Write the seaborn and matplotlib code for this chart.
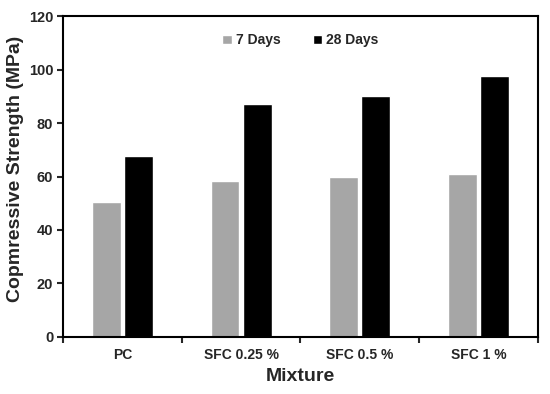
import matplotlib
matplotlib.use('Agg')
import matplotlib.pyplot as plt
from matplotlib.ticker import FixedLocator
import seaborn as sns
import pandas as pd

mixtures = ['PC', 'SFC 0.25 %', 'SFC 0.5 %', 'SFC 1 %']
days_7 = [50.5, 58.4, 59.8, 61.0]
days_28 = [67.6, 87.1, 90.3, 97.6]
series = ['7 Days', '28 Days']

df = pd.DataFrame({
    'Mixture': mixtures * 2,
    'Strength': days_7 + days_28,
    'Age': [series[0]] * len(mixtures) + [series[1]] * len(mixtures),
})

sns.set_style('white')
plt.rcParams['font.family'] = ['Liberation Sans', 'DejaVu Sans']
plt.rcParams['font.weight'] = 'bold'

fig = plt.figure(figsize=(5.5, 3.94), dpi=100)
ax = fig.add_axes([0.1145, 0.145, 0.8635, 0.814])

sns.barplot(data=df, x='Mixture', y='Strength', hue='Age', order=mixtures,
            hue_order=series, palette=['#a6a6a6', '#000000'],
            width=0.54, gap=0.1, saturation=1, ax=ax)

ax.set_ylim(0, 120)
ax.set_yticks(range(0, 121, 20))
ax.set_xlim(-0.5, len(mixtures) - 0.5)
ax.set_xlabel('Mixture', fontsize=14, fontweight='bold')
ax.set_ylabel('Copmressive Strength (MPa)', fontsize=14, fontweight='bold')
ax.yaxis.set_label_coords(-0.083, 0.525)

for s in ax.spines.values():
    s.set_visible(True)
    s.set_color('black')
    s.set_linewidth(1.5)

ax.tick_params(axis='y', which='major', direction='out', length=4, width=1.5,
               left=True, labelsize=10.5, pad=3)
ax.tick_params(axis='x', which='major', length=0, labelsize=10, pad=8)
ax.xaxis.set_minor_locator(FixedLocator([i - 0.5 for i in range(len(mixtures) + 1)]))
ax.tick_params(axis='x', which='minor', direction='out', length=4, width=1.5, bottom=True)
for lbl in ax.get_xticklabels() + ax.get_yticklabels():
    lbl.set_fontweight('bold')

leg = ax.legend(loc='upper center', bbox_to_anchor=(0.5, 0.985), ncol=2, frameon=False,
                fontsize=10, handlelength=0.7, handleheight=0.7, handletextpad=0.3,
                columnspacing=2.3)
for t in leg.get_texts():
    t.set_fontweight('bold')

fig.savefig('out.png', dpi=100)
